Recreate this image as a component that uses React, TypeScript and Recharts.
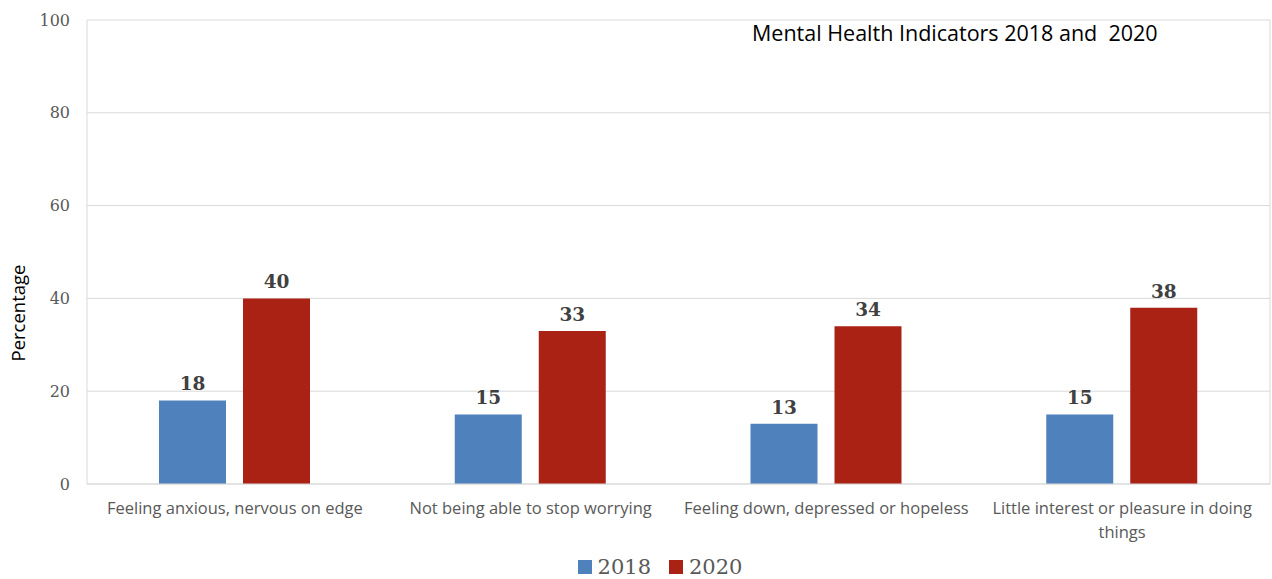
import { BarChart, Bar, XAxis, YAxis, CartesianGrid, Legend, LabelList, Label } from 'recharts';

const categories = [
  'Feeling anxious, nervous on edge',
  'Not being able to stop worrying',
  'Feeling down, depressed or hopeless',
  'Little interest or pleasure in doing things',
];
const values2018 = [18, 15, 13, 15];
const values2020 = [40, 33, 34, 38];
const yTicks = [0, 20, 40, 60, 80, 100];

const chartData = categories.map((name, i) => ({
  name,
  y2018: values2018[i],
  y2020: values2020[i],
}));

const BLUE = '#4F81BD';
const RED = '#AA2214';
const GRID = '#D9D9D9';
const SANS = '"Open Sans", sans-serif';
const SERIF = '"DejaVu Serif", serif';

function wrap(text: string, maxChars: number) {
  const words = text.split(' ');
  const lines: string[] = [];
  let cur = '';
  for (const w of words) {
    const next = cur ? cur + ' ' + w : w;
    if (next.length > maxChars && cur) {
      lines.push(cur);
      cur = w;
    } else {
      cur = next;
    }
  }
  if (cur) lines.push(cur);
  return lines;
}

function CategoryTick(props: any) {
  const { x, y, payload } = props;
  const lines = wrap(payload.value, 36);
  return (
    <g transform={`translate(${x},${y})`}>
      {lines.map((line, i) => (
        <text
          key={i}
          x={0}
          y={16 + i * 24}
          dy="0.355em"
          textAnchor="middle"
          fill="#595959"
          style={{ fontFamily: SANS, fontSize: 16.5 }}
        >
          {line}
        </text>
      ))}
    </g>
  );
}

function AxisTitle(props: any) {
  const { viewBox } = props;
  const cx = viewBox.x + 18;
  const cy = viewBox.y + viewBox.height / 2 + 61;
  return (
    <text
      x={cx}
      y={cy}
      transform={`rotate(-90 ${cx} ${cy})`}
      textAnchor="middle"
      dy="0.355em"
      fill="#000"
      style={{ fontFamily: SANS, fontSize: 18.5 }}
    >
      Percentage
    </text>
  );
}

function LegendContent() {
  const items = [
    { label: '2018', color: BLUE },
    { label: '2020', color: RED },
  ];
  return (
    <div
      style={{
        display: 'flex',
        justifyContent: 'center',
        height: 36,
        paddingTop: 12,
        paddingLeft: 66,
        boxSizing: 'border-box',
      }}
    >
      {items.map((it) => (
        <div key={it.label} style={{ display: 'flex', alignItems: 'center', marginRight: 18 }}>
          <span style={{ display: 'inline-block', width: 14, height: 14, background: it.color, marginRight: 6 }} />
          <span style={{ fontFamily: SERIF, fontSize: 21, color: '#595959', lineHeight: '24px' }}>{it.label}</span>
        </div>
      ))}
    </div>
  );
}

export default function App() {
  return (
    <div style={{ position: 'absolute', left: 0, top: 0, width: 1272, height: 579, background: '#fff' }}>
      <BarChart
        width={1272}
        height={579}
        data={chartData}
        margin={{ top: 20, right: 0, left: 0, bottom: 0 }}
        barSize={67}
        barGap={17}
      >
        <CartesianGrid vertical={false} stroke={GRID} />
        <XAxis
          dataKey="name"
          height={59}
          axisLine={{ stroke: GRID }}
          tickLine={false}
          interval={0}
          tick={<CategoryTick />}
        />
        <YAxis
          domain={[0, 100]}
          ticks={yTicks}
          width={87}
          axisLine={{ stroke: GRID }}
          tickLine={false}
          tickSize={0}
          tickMargin={17}
          tick={{ fill: '#595959', fontFamily: SERIF, fontSize: 16 }}
        >
          <Label content={<AxisTitle />} />
        </YAxis>
        <YAxis
          yAxisId="right"
          orientation="right"
          width={2}
          axisLine={{ stroke: GRID }}
          tickLine={false}
          tick={false}
        />
        <Legend verticalAlign="bottom" height={36} content={<LegendContent />} />
        <Bar dataKey="y2018" name="2018" fill={BLUE} isAnimationActive={false}>
          <LabelList
            dataKey="y2018"
            position="top"
            offset={10}
            fill="#404040"
            style={{ fontFamily: SERIF, fontSize: 18.5, fontWeight: 'bold' }}
          />
        </Bar>
        <Bar dataKey="y2020" name="2020" fill={RED} isAnimationActive={false}>
          <LabelList
            dataKey="y2020"
            position="top"
            offset={10}
            fill="#404040"
            style={{ fontFamily: SERIF, fontSize: 18.5, fontWeight: 'bold' }}
          />
        </Bar>
      </BarChart>
      <div
        style={{
          position: 'absolute',
          left: 752,
          top: 18,
          fontFamily: SANS,
          fontSize: 21.5,
          color: '#000',
          whiteSpace: 'pre',
          lineHeight: '30px',
        }}
      >
        Mental Health Indicators 2018 and  2020
      </div>
    </div>
  );
}
